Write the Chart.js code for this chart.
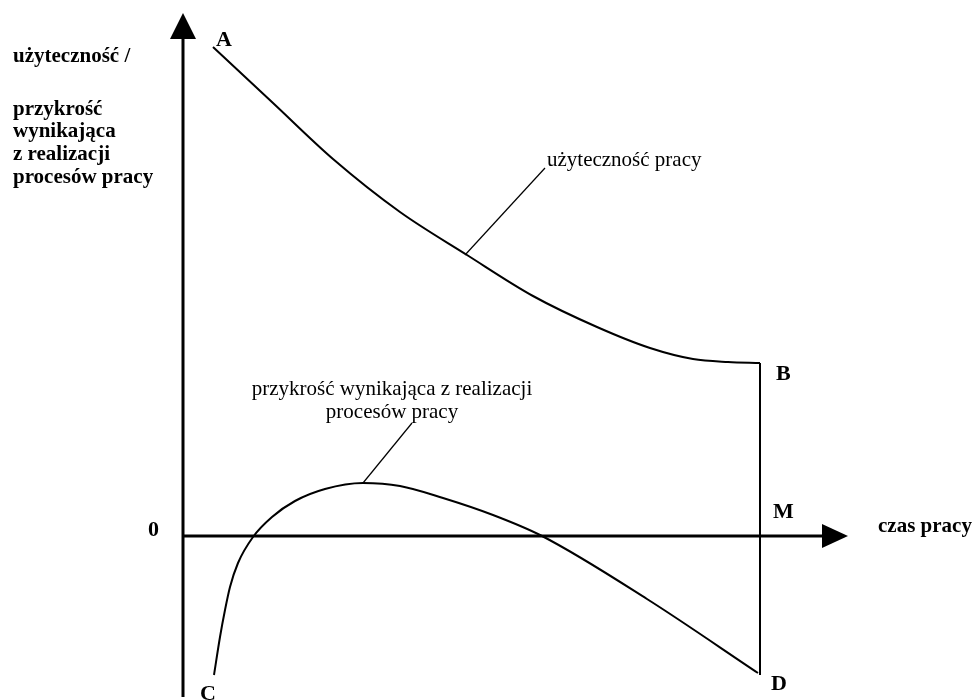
<!DOCTYPE html>
<html lang="pl">
<head>
<meta charset="utf-8">
<title>Użyteczność i przykrość pracy</title>
<script src="https://cdn.jsdelivr.net/npm/chart.js@4/dist/chart.umd.min.js"></script>
<style>
  html, body { margin: 0; padding: 0; background: #fff; }
  #wrap { width: 975px; height: 700px; position: relative; }
</style>
</head>
<body>
<div id="wrap"><canvas id="chart"></canvas></div>
<script>
// krzywa użyteczności pracy (A -> B)
const utilityX = [30, 90, 150, 217, 284, 350, 414, 467, 510, 545, 577];
const utilityY = [489, 433, 377, 324, 281, 240, 209, 188, 177, 174, 173];

// krzywa przykrości (C -> D)
const disutilityX = [31, 37, 42, 47, 55, 70, 89, 112, 142, 180, 217, 260, 310, 359, 464, 575];
const disutilityY = [-139, -101, -74, -51, -27, -1, 19, 35, 47, 53, 50, 38, 21, 0, -63, -137];

// odcinek B -> M -> D (koniec czasu pracy)
const endX = [577, 577];
const endY = [173, -139];

// linie odnośników do opisów
const utilityLeaderX = [282, 362];
const utilityLeaderY = [281, 368];
const disutilityLeaderX = [180, 229];
const disutilityLeaderY = [53, 113];

// zakres osi
const xMax = 665;
const yMin = -161;
const yMax = 523;

// opisy
const axisTitleY = ['użyteczność /', '', 'przykrość', 'wynikająca', 'z realizacji', 'procesów pracy'];
const axisTitleX = 'czas pracy';
const utilityLabel = 'użyteczność pracy';
const disutilityLabel = ['przykrość wynikająca z realizacji', 'procesów pracy'];

const toPts = (xs, ys) => xs.map((x, i) => ({ x: x, y: ys[i] }));

function lineSet(xs, ys, width, smooth) {
  return {
    data: toPts(xs, ys),
    showLine: true,
    borderColor: '#000',
    borderWidth: width,
    pointRadius: 0,
    fill: false,
    clip: false,
    cubicInterpolationMode: smooth ? 'monotone' : 'default',
    tension: 0
  };
}

const serif = '"Liberation Serif", "Times New Roman", serif';

const diagramPlugin = {
  id: 'diagram',
  beforeDatasetsDraw(chart) {
    const { ctx, scales: { x, y } } = chart;
    const x0 = x.getPixelForValue(0);
    const y0 = y.getPixelForValue(0);
    const top = y.getPixelForValue(yMax);
    const bottom = y.getPixelForValue(yMin);
    const right = x.getPixelForValue(xMax);
    ctx.save();
    ctx.strokeStyle = '#000';
    ctx.fillStyle = '#000';
    ctx.lineWidth = 3;
    // oś pionowa
    ctx.beginPath();
    ctx.moveTo(x0, bottom);
    ctx.lineTo(x0, top + 24);
    ctx.stroke();
    ctx.beginPath();
    ctx.moveTo(x0, top);
    ctx.lineTo(x0 - 13, top + 26);
    ctx.lineTo(x0 + 13, top + 26);
    ctx.closePath();
    ctx.fill();
    // oś pozioma
    ctx.beginPath();
    ctx.moveTo(x0, y0);
    ctx.lineTo(right - 24, y0);
    ctx.stroke();
    ctx.beginPath();
    ctx.moveTo(right, y0);
    ctx.lineTo(right - 26, y0 - 12);
    ctx.lineTo(right - 26, y0 + 12);
    ctx.closePath();
    ctx.fill();
    ctx.restore();
  },
  afterDraw(chart) {
    const { ctx, scales: { x, y } } = chart;
    const px = v => x.getPixelForValue(v);
    const py = v => y.getPixelForValue(v);
    ctx.save();
    ctx.fillStyle = '#000';
    ctx.textBaseline = 'alphabetic';

    // tytuł osi Y (lewa strona)
    ctx.font = 'bold 21px ' + serif;
    ctx.textAlign = 'left';
    const leftLines = [62, 88, 115, 137, 160, 183];
    axisTitleY.forEach((t, i) => { if (t) ctx.fillText(t, 13, leftLines[i]); });

    // tytuł osi X
    ctx.fillText(axisTitleX, 878, py(0) - 4);

    // punkty
    ctx.font = 'bold 22px ' + serif;
    ctx.fillText('A', px(33), py(489) - 1);
    ctx.fillText('B', px(593), py(156));
    ctx.fillText('M', px(590), py(18));
    ctx.fillText('D', px(588), py(-154));
    ctx.fillText('C', px(17), py(-164));
    ctx.fillText('0', px(-35), py(0));

    // opisy krzywych
    ctx.font = '21px ' + serif;
    ctx.fillText(utilityLabel, px(364), py(370));
    ctx.textAlign = 'center';
    ctx.fillText(disutilityLabel[0], px(209), py(141));
    ctx.fillText(disutilityLabel[1], px(209), py(118));
    ctx.restore();
  }
};

new Chart(document.getElementById('chart'), {
  type: 'scatter',
  data: {
    datasets: [
      lineSet(utilityX, utilityY, 2, true),
      lineSet(disutilityX, disutilityY, 2, true),
      lineSet(endX, endY, 2, false),
      lineSet(utilityLeaderX, utilityLeaderY, 1.2, false),
      lineSet(disutilityLeaderX, disutilityLeaderY, 1.2, false)
    ]
  },
  options: {
    responsive: true,
    maintainAspectRatio: false,
    animation: false,
    layout: { padding: { left: 183, right: 127, top: 13, bottom: 3 } },
    plugins: { legend: { display: false }, tooltip: { enabled: false } },
    scales: {
      x: { type: 'linear', min: 0, max: xMax, display: false },
      y: { type: 'linear', min: yMin, max: yMax, display: false }
    }
  },
  plugins: [diagramPlugin]
});
</script>
</body>
</html>
